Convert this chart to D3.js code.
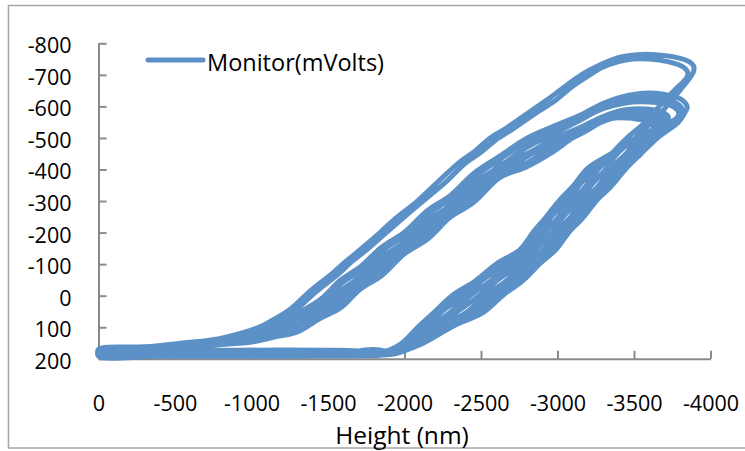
<!DOCTYPE html>
<html><head><meta charset="utf-8">
<script src="https://cdn.jsdelivr.net/npm/d3@7"></script>
<style>body{margin:0;background:#fff}</style>
</head><body><svg id="c" width="745" height="451"></svg>
<script>
const seriesName = "Monitor(mVolts)";
const xTitle = "Height (nm)";
const heightTicks = [0,-500,-1000,-1500,-2000,-2500,-3000,-3500,-4000];
const monitorTicks = [-800,-700,-600,-500,-400,-300,-200,-100,0,100,200];

// each cycle: [height nm, monitor mV], approach then retract
const cycle1 = [[0,183],[-400,183],[-800,184],[-1200,183],[-1500,184],[-1750,184],[-1895,183],[-2045,150],[-2208,102],[-2353,48],[-2485,1],[-2615,-52],[-2750,-98],[-2873,-153],[-2963,-198],[-3043,-253],[-3138,-298],[-3225,-353],[-3310,-398],[-3395,-452],[-3505,-499],[-3622,-552],[-3710,-599],[-3800,-651],[-3872,-695],[-3890,-712],
 [-3890,-728],[-3860,-742],[-3760,-757],[-3640,-764],[-3520,-764],[-3430,-758],[-3360,-748],[-3260,-727],[-3166,-703],[-3062,-668],[-2951,-627],[-2821,-584],[-2671,-533],[-2560,-500],[-2460,-458],[-2364,-425],[-2234,-368],[-2084,-300],[-1927,-239],[-1842,-201],[-1712,-147],[-1620,-110],[-1536,-74],[-1386,-16],[-1255,42],[-1140,77],[-1040,102],[-818,133],[-600,150],[-388,161],[-150,170],[0,174]];
const cycle2 = [[0,176],[-400,176],[-800,177],[-1200,176],[-1600,177],[-1820,178],[-1950,180],[-2115,152],[-2320,96],[-2515,53],[-2650,-4],[-2770,-46],[-2890,-104],[-2990,-146],[-3080,-204],[-3165,-246],[-3260,-304],[-3350,-346],[-3450,-404],[-3540,-447],[-3660,-503],[-3790,-550],[-3831,-579],
 [-3848,-598],[-3810,-622],[-3700,-638],[-3560,-642],[-3420,-630],[-3300,-610],[-3147,-572],[-2970,-536],[-2800,-499],[-2625,-443],[-2450,-387],[-2300,-318],[-2150,-270],[-2000,-201],[-1850,-154],[-1712,-92],[-1581,-49],[-1450,12],[-1300,56],[-1150,95],[-1000,114],[-800,136],[-550,150],[-300,162],[0,170]];
const cycle3 = [[0,186],[-400,187],[-800,186],[-1200,186],[-1500,185],[-1640,180],[-1740,172],[-1820,171],[-1890,177],[-1960,181],[-2090,148],[-2280,104],[-2457,46],[-2591,4],[-2714,-54],[-2840,-96],[-2948,-155],[-3038,-196],[-3121,-255],[-3216,-296],[-3305,-355],[-3400,-396],[-3488,-455],[-3604,-497],[-3720,-545],[-3779,-563],
 [-3792,-580],[-3752,-600],[-3650,-612],[-3493,-614],[-3370,-603],[-3250,-583],[-3147,-556],[-2970,-512],[-2800,-470],[-2625,-411],[-2450,-355],[-2300,-286],[-2150,-239],[-2000,-170],[-1850,-122],[-1712,-60],[-1581,-17],[-1450,31],[-1300,70],[-1150,106],[-1000,123],[-800,141],[-550,155],[-300,165],[0,174]];
const cycle4 = [[0,191],[-400,191],[-800,191],[-1200,190],[-1500,190],[-1740,189],[-1879,186],[-2024,151],[-2174,99],[-2304,51],[-2436,-2],[-2569,-49],[-2708,-102],[-2837,-149],[-2927,-202],[-3006,-249],[-3101,-302],[-3188,-349],[-3268,-402],[-3352,-449],[-3459,-502],[-3572,-549],[-3665,-601],[-3760,-649],[-3835,-685],[-3850,-697],
 [-3848,-712],[-3815,-727],[-3720,-742],[-3600,-750],[-3490,-750],[-3400,-742],[-3295,-724],[-3201,-697],[-3097,-663],[-2986,-619],[-2856,-578],[-2706,-528],[-2595,-493],[-2495,-453],[-2399,-420],[-2269,-360],[-2119,-299],[-1962,-234],[-1877,-198],[-1747,-143],[-1655,-108],[-1571,-70],[-1421,-12],[-1290,45],[-1175,79],[-1075,103],[-853,133],[-635,150],[-423,162],[-185,171],[0,175]];
const cycle5 = [[0,180],[-400,180],[-800,181],[-1200,180],[-1500,181],[-1760,182],[-1912,183],[-2066,154],[-2241,97],[-2401,54],[-2535,-3],[-2662,-46],[-2792,-104],[-2908,-146],[-2998,-204],[-3079,-246],[-3174,-304],[-3263,-346],[-3352,-404],[-3439,-446],[-3552,-503],[-3670,-540],[-3714,-551],
 [-3724,-567],[-3680,-583],[-3580,-592],[-3453,-590],[-3330,-574],[-3230,-553],[-3147,-533],[-2970,-496],[-2800,-450],[-2625,-415],[-2450,-336],[-2300,-289],[-2150,-220],[-2000,-172],[-1850,-104],[-1712,-60],[-1581,-1],[-1450,38],[-1300,88],[-1150,111],[-1000,132],[-800,144],[-550,158],[-300,167],[0,176]];
const cycle6 = [[0,192],[-400,192],[-800,192],[-1200,192],[-1500,191],[-1720,190],[-1862,187],[-2003,147],[-2140,104],[-2255,46],[-2386,4],[-2522,-54],[-2666,-96],[-2802,-155],[-2892,-196],[-2969,-255],[-3064,-296],[-3150,-355],[-3254,-396],[-3381,-454],[-3552,-500],[-3669,-535],
 [-3678,-552],[-3640,-566],[-3540,-575],[-3408,-573],[-3300,-557],[-3200,-535],[-3147,-520],[-2970,-484],[-2800,-441],[-2625,-383],[-2450,-327],[-2300,-257],[-2150,-211],[-2000,-141],[-1850,-95],[-1712,-31],[-1581,11],[-1450,63],[-1300,95],[-1150,125],[-1000,137],[-800,151],[-550,162],[-300,170],[0,178]];
const cycle7 = [[0,172],[-400,172],[-800,173],[-1200,172],[-1500,173],[-1700,175],[-1840,180],[-1975,153],[-2095,96],[-2190,54],[-2320,-4],[-2460,-46],[-2610,-104],[-2755,-146],[-2845,-204],[-2920,-246],[-3015,-304],[-3100,-346],[-3198,-404],[-3337,-446],[-3520,-500],[-3617,-519],
 [-3626,-536],[-3590,-552],[-3490,-562],[-3375,-563],[-3280,-548],[-3180,-520],[-3100,-500],[-2970,-456],[-2800,-409],[-2625,-375],[-2450,-295],[-2300,-249],[-2150,-179],[-2000,-133],[-1850,-63],[-1712,-21],[-1581,39],[-1450,72],[-1300,115],[-1150,131],[-1000,147],[-800,155],[-550,165],[-300,172],[0,180]];
const cycle8 = [[0,185],[-400,186],[-800,185],[-1200,186],[-1500,185],[-1750,185],[-1939,184],[-2101,153],[-2298,97],[-2483,53],[-2617,-3],[-2739,-47],[-2862,-103],[-2967,-147],[-3057,-203],[-3141,-247],[-3236,-303],[-3325,-347],[-3422,-403],[-3511,-447],[-3629,-503],[-3757,-550],[-3805,-570],
 [-3818,-588],[-3780,-610],[-3680,-624],[-3520,-627],[-3390,-617],[-3270,-596],[-3147,-564],[-2970,-524],[-2800,-487],[-2625,-433],[-2450,-373],[-2300,-307],[-2150,-257],[-2000,-191],[-1850,-141],[-1712,-80],[-1581,-37],[-1450,22],[-1300,62],[-1150,102],[-1000,118],[-800,139],[-550,152],[-300,164],[0,172]];
const cycle9 = [[0,178],[-400,178],[-800,179],[-1200,178],[-1500,179],[-1720,180],[-1851,182],[-1989,152],[-2118,97],[-2223,53],[-2353,-3],[-2491,-47],[-2638,-103],[-2779,-147],[-2869,-203],[-2945,-247],[-3040,-303],[-3125,-347],[-3240,-403],[-3360,-447],[-3520,-503],[-3690,-543],
 [-3700,-560],[-3660,-575],[-3560,-584],[-3430,-582],[-3315,-566],[-3215,-544],[-3147,-527],[-2970,-494],[-2800,-441],[-2625,-403],[-2450,-327],[-2300,-277],[-2150,-211],[-2000,-161],[-1850,-95],[-1712,-50],[-1581,9],[-1450,47],[-1300,96],[-1150,115],[-1000,137],[-800,147],[-550,161],[-300,168],[0,177]];
const cycle10 = [[0,188],[-400,188],[-800,189],[-1200,188],[-1500,188],[-1760,187],[-1919,185],[-2076,149],[-2257,103],[-2424,47],[-2558,3],[-2683,-53],[-2812,-97],[-2924,-153],[-3014,-197],[-3096,-253],[-3191,-297],[-3280,-353],[-3372,-397],[-3459,-453],[-3573,-500],[-3645,-528],
 [-3652,-544],[-3615,-559],[-3515,-568],[-3390,-568],[-3290,-553],[-3190,-528],[-3120,-510],[-2970,-474],[-2800,-421],[-2625,-383],[-2450,-307],[-2300,-257],[-2150,-191],[-2000,-141],[-1850,-75],[-1712,-30],[-1581,29],[-1450,64],[-1300,108],[-1150,126],[-1000,143],[-800,151],[-550,163],[-300,171],[0,179]];

const cycles = [cycle1, cycle2, cycle3, cycle4, cycle5, cycle6, cycle7, cycle8, cycle9, cycle10];
const lineColor = "#5b91c7";
const axisColor = "#8a8a8a";
const font = "'Open Sans', sans-serif";

const svg = d3.select("#c");
svg.append("rect").attr("x",0).attr("y",0).attr("width",745).attr("height",451).attr("fill","#fff");
svg.append("rect").attr("x",8.5).attr("y",5.5).attr("width",760).attr("height",442.5)
  .attr("fill","none").attr("stroke","#a6a6a6").attr("stroke-width",1.5);

const x = d3.scaleLinear().domain([0,-4000]).range([98.5,710.5]);
const y = d3.scaleLinear().domain([-800,200]).range([43.3,358.8]);

const gy = svg.append("g").attr("transform",`translate(${x(0)},0)`)
  .call(d3.axisLeft(y).tickValues(monitorTicks).tickSize(-8).tickSizeOuter(0).tickPadding(27).tickFormat(d=>String(d)));
const gx = svg.append("g").attr("transform",`translate(0,${y(200)})`)
  .call(d3.axisBottom(x).tickValues(heightTicks).tickSize(-8).tickSizeOuter(0).tickPadding(37).tickFormat(d=>String(d)));
[gx,gy].forEach(g=>{
  g.selectAll(".domain,line").attr("stroke",axisColor).attr("stroke-width",2);
  g.selectAll("text").attr("fill","#000").style("font-family",font).style("font-size","21.5px");
});
gy.selectAll("text").attr("dy","0.44em");

const line = d3.line().x(d=>x(d[0])).y(d=>y(d[1])).curve(d3.curveCatmullRom.alpha(0.5));
svg.append("path").datum(cycles.flat())
  .attr("d",line).attr("fill","none").attr("stroke",lineColor)
  .attr("stroke-width",5).attr("stroke-linejoin","round").attr("stroke-linecap","round");

// legend
svg.append("line").attr("x1",148).attr("x2",203).attr("y1",60).attr("y2",60)
  .attr("stroke",lineColor).attr("stroke-width",5).attr("stroke-linecap","round");
svg.append("text").attr("x",207).attr("y",71).text(seriesName)
  .style("font-family",font).style("font-size","23.5px").attr("fill","#000");

// axis title
svg.append("text").attr("x",402).attr("y",443.5).attr("text-anchor","middle").text(xTitle)
  .style("font-family",font).style("font-size","24.5px").attr("fill","#000");
</script></body></html>
